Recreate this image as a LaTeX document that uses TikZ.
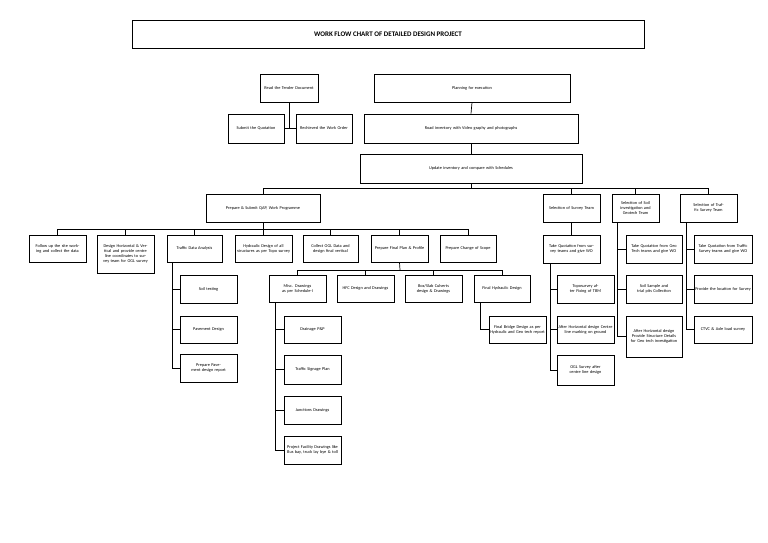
\documentclass[tikz,border=0pt]{standalone}
\usepackage{fontspec}
\setmainfont{Carlito}
\begin{document}
\begin{tikzpicture}[x=1pt,y=-1pt,line width=0.7pt,
  bx/.style={draw,inner sep=0.5pt,align=center,font=\fontsize{4.3}{5}\selectfont}]
\useasboundingbox (0,0) rectangle (768,543);
\newcommand\bx[6]{\node[bx,minimum width={#4-#2},minimum height={#5-#3},text width={#4-#2-2}] (#1) at ({(#2+#4)/2},{(#3+#5)/2}) {#6};}
\node[draw,minimum width=512,minimum height=28,font=\bfseries\fontsize{7}{8}\selectfont] (title) at (388,34) {WORK FLOW CHART OF DETAILED DESIGN PROJECT};
\bx{read}{260}{74}{318}{102}{Read the Tender Document}
\bx{plan}{374}{74}{570}{102}{Planning for execution}
\bx{subq}{228}{114}{284}{143}{Submit the Quotation}
\bx{rech}{296}{114}{352}{143}{Rechieved the Work Order}
\bx{road}{364}{114}{578}{143}{Road inventory with Video graphy and photographs}
\bx{upd}{360}{154}{582}{183}{Update inventory and compare with Schedules}
\bx{qap}{206}{194}{320}{222}{Prepare \& Submit QAP, Work Programme}
\bx{sst}{543}{194}{600}{222}{Selection of Survey Team}
\bx{sgt}{612}{194}{659}{222}{Selection of Soil investigation and Geotech Team}
\bx{stt}{680}{194}{737}{222}{Selection of Traffic Survey Team}
\bx{fol}{29}{235}{86}{262}{Follow up the site working and collect the data}
\bx{dhv}{97}{235}{154}{273}{Design Horizontal \& Vertical and provide centre line coordinates to survey team for OGL survey}
\bx{tda}{167}{235}{222}{262}{Traffic Data Analysis}
\bx{hyd}{235}{235}{292}{262}{Hydraulic Design of all structures as per Topo survey}
\bx{ogl}{303}{235}{358}{262}{Collect OGL Data and design final vertical}
\bx{pfp}{371}{235}{428}{262}{Prepare Final Plan \& Profile}
\bx{pcs}{440}{235}{496}{262}{Prepare Change of Scope}
\bx{soil}{180}{275}{237}{303}{Soil testing}
\bx{pav}{180}{316}{237}{343}{Pavement Design}
\bx{ppr}{180}{354}{237}{382}{Prepare Pavement design report}
\bx{misc}{269}{275}{326}{302}{Misc. Drawings as per Schedule-I}
\bx{hfc}{337}{275}{394}{302}{HFC Design and Drawings}
\bx{box}{405}{275}{462}{302}{Box/Slab Culverts design \& Drawings}
\bx{fhd}{474}{275}{530}{302}{Final Hydraulic Design}
\bx{drn}{284}{316}{341}{343}{Drainage P\&P}
\bx{tsp}{284}{355}{341}{384}{Traffic Signage Plan}
\bx{jun}{284}{396}{341}{424}{Junctions Drawings}
\bx{pfd}{284}{436}{341}{464}{Project Facility Drawings like Bus bay, truck lay bye \& toll}
\bx{fbd}{489}{316}{546}{343}{Final Bridge Design as per Hydraulic and Geo tech report}
\bx{tqs}{543}{235}{600}{263}{Take Quotation from survey teams and give WO}
\bx{topo}{557}{275}{614}{303}{Toposurvey after Fixing of TBM}
\bx{ahc}{557}{316}{614}{343}{After Horizontal design Centre line marking on ground}
\bx{ogs}{557}{355}{614}{385}{OGL Survey after centre line design}
\bx{tqg}{626}{235}{682}{263}{Take Quotation from Geo Tech teams and give WO}
\bx{ssp}{626}{275}{682}{303}{Soil Sample and trial pits Collection}
\bx{ahs}{626}{316}{682}{357}{After Horizontal design Provide Structure Details for Geo tech investigation}
\bx{tqt}{694}{235}{752}{263}{Take Quotation from Traffic Survey teams and give WO}
\bx{ploc}{694}{275}{752}{303}{Provide the location for Survey}
\bx{ctvc}{694}{316}{752}{343}{CTVC \& Axle load survey}
% connectors
\coordinate (c1) at (289,128);
\draw (read.south) -- (c1); \draw (subq.east) -- (rech.west);
\draw (plan.south) -- (road.north); \draw (road.south) -- (upd.north);
\coordinate (b1) at (471,188);
\draw (upd.south) -- (b1);
\foreach \n in {qap,sst,sgt,stt} \draw (b1) -| (\n.north);
\coordinate (b2) at (263,229);
\draw (qap.south) -- (b2);
\foreach \n in {fol,dhv,tda,hyd,ogl,pfp,pcs} \draw (b2) -| (\n.north);
\coordinate (b3) at (400,270);
\draw (pfp.south) -- (b3);
\foreach \n in {misc,hfc,box,fhd} \draw (b3) -| (\n.north);
\coordinate (t1) at (172,262); \coordinate (t2) at (172,368);
\draw (t1) -- (t2);
\foreach \n in {soil,pav,ppr} \draw (\n.west) -- (\n.west -| t1);
\coordinate (m1) at (275,302); \coordinate (m2) at (275,450);
\draw (m1) -- (m2);
\foreach \n in {drn,tsp,jun,pfd} \draw (\n.west) -- (\n.west -| m1);
\coordinate (f1) at (480,302);
\draw (f1) |- (fbd.west);
\draw (sst.south) -- (tqs.north);
\coordinate (s1) at (550,263); \coordinate (s2) at (550,370);
\draw (s1) -- (s2);
\foreach \n in {topo,ahc,ogs} \draw (\n.west) -- (\n.west -| s1);
\coordinate (g1) at (617,222); \coordinate (g2) at (617,336);
\draw (g1) -- (g2);
\foreach \n in {tqg,ssp,ahs} \draw (\n.west) -- (\n.west -| g1);
\coordinate (h1) at (686,222); \coordinate (h2) at (686,330);
\draw (h1) -- (h2);
\foreach \n in {tqt,ploc,ctvc} \draw (\n.west) -- (\n.west -| h1);
\end{tikzpicture}
\end{document}
